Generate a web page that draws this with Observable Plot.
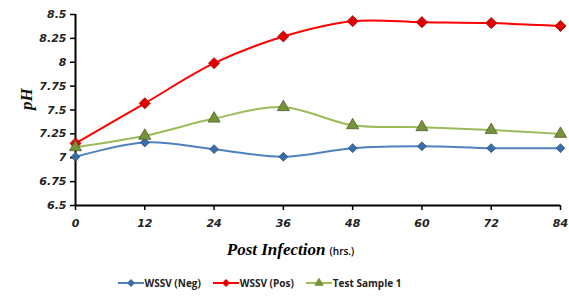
<!DOCTYPE html>
<html><head><meta charset="utf-8">
<script src="https://cdn.jsdelivr.net/npm/d3@7"></script>
<script src="https://cdn.jsdelivr.net/npm/@observablehq/plot@0.6"></script>
<style>
body{margin:0;background:#fff;font-family:"Open Sans",sans-serif;}
#wrap{position:relative;width:569px;height:297px;}
#xt{position:absolute;left:0;width:569px;top:238px;text-align:center;padding-left:12px;box-sizing:border-box;}
#xt .a{font-family:"Liberation Serif",serif;font-style:italic;font-weight:bold;font-size:17px;}
#xt .b{font-family:"Open Sans",sans-serif;font-size:10px;font-weight:600;}
#leg{position:absolute;top:276px;left:0;width:569px;display:flex;justify-content:center;gap:12px;font-size:10px;font-weight:700;color:#222;padding-right:50px;box-sizing:border-box;}
#leg span{display:flex;align-items:center;gap:1px;}
</style></head>
<body><div id="wrap"><div id="chart"></div>
<div id="xt"><span class="a">Post Infection</span> <span class="b">(hrs.)</span></div>
<div id="leg"></div></div>
<script>
const hours = [0, 12, 24, 36, 48, 60, 72, 84];
const seriesNames = ["WSSV (Neg)", "WSSV (Pos)", "Test Sample 1"];
const neg = [7.01, 7.16, 7.09, 7.01, 7.10, 7.12, 7.10, 7.10];
const pos = [7.15, 7.57, 7.99, 8.27, 8.43, 8.42, 8.41, 8.38];
const test = [7.11, 7.23, 7.41, 7.53, 7.34, 7.32, 7.29, 7.25];
const yTicks = [6.5, 6.75, 7, 7.25, 7.5, 7.75, 8, 8.25, 8.5];

const lineColors = ["#4f81bd", "#ff0000", "#9bbb59"];
const markColors = ["#3b6da8", "#e00000", "#76923c"];
const markStrokes = ["#2a4f7a", "#a00000", "#4f6228"];
const symbols = ["diamond2", "diamond2", "triangle"];
const sizes = [4, 5, 4.5];
const vals = [neg, pos, test];
const data = [];
seriesNames.forEach((s, i) => hours.forEach((h, j) => data.push({s, i, h, v: vals[i][j]})));

const tickFont = {fontFamily: "DejaVu Sans", fontStyle: "italic", fontWeight: "bold", fontSize: 11};
const chart = Plot.plot({
  width: 569, height: 238,
  marginTop: 14, marginBottom: 33, marginLeft: 75, marginRight: 9,
  x: {domain: [0, 84]},
  y: {domain: [6.5, 8.5]},
  marks: [
    Plot.ruleY([6.5], {stroke: "#000", strokeWidth: 2}),
    Plot.ruleX([0], {stroke: "#000", strokeWidth: 2}),
    Plot.axisY({ticks: yTicks, tickSize: 5, tickPadding: 4, tickFormat: d => String(d), label: null, ...tickFont, fill: "#222", strokeWidth: 1.5}),
    Plot.axisX({ticks: hours, tickSize: 5, tickPadding: 9, tickFormat: d => String(d), label: null, ...tickFont, fill: "#222", strokeWidth: 1.5}),
    ...vals.map((_, i) => Plot.line(data.filter(d => d.i === i), {x: "h", y: "v", stroke: lineColors[i], strokeWidth: 2, curve: "catmull-rom"})),
    ...vals.map((_, i) => Plot.dot(data.filter(d => d.i === i), {x: "h", y: "v", symbol: symbols[i], r: sizes[i], fill: markColors[i], stroke: markStrokes[i], strokeWidth: 0.8})),
    Plot.text(["pH"], {frameAnchor: "left", dx: -49, rotate: -90, fontFamily: "Liberation Serif", fontStyle: "italic", fontWeight: "bold", fontSize: 17, fill: "#111"})
  ]
});
document.getElementById("chart").appendChild(chart);

const leg = d3.select("#leg");
seriesNames.forEach((s, i) => {
  const sp = leg.append("span");
  const svg = sp.append("svg").attr("width", 26).attr("height", 10);
  svg.append("line").attr("x1", 0).attr("x2", 26).attr("y1", 5).attr("y2", 5).attr("stroke", lineColors[i]).attr("stroke-width", 2);
  const sym = i === 2 ? d3.symbolTriangle : d3.symbolDiamond2;
  svg.append("path").attr("transform", "translate(13,5)").attr("d", d3.symbol(sym, 40)()).attr("fill", markColors[i]);
  sp.append("span").text(s);
});
</script></body></html>
